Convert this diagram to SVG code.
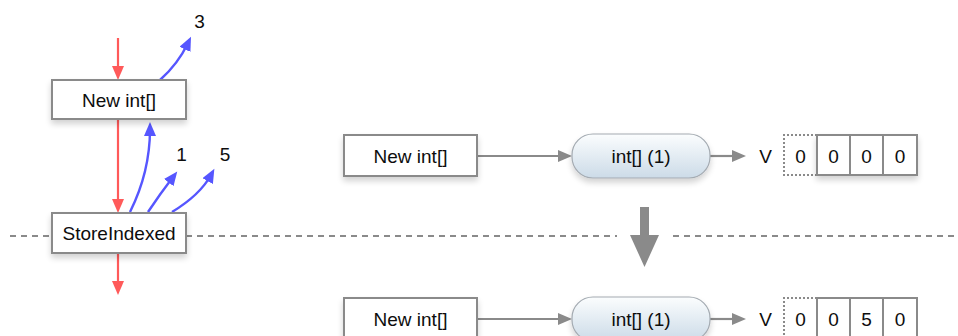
<svg xmlns="http://www.w3.org/2000/svg" width="958" height="336" viewBox="0 0 958 336">
  <style>
    .box { fill: #ffffff; stroke: #8a8a8a; stroke-width: 2; }
    .pill { fill: url(#pillFill); stroke: #a3aab1; stroke-width: 1.2; }
    .cell { fill: #ffffff; stroke: #8a8a8a; stroke-width: 2; }
    .dotted { fill: none; stroke: #8a8a8a; stroke-width: 2; stroke-dasharray: 2 2; }
    .lbl { font-family: "Liberation Sans", Arial, sans-serif; font-size: 19px; fill: #0d0d0d; text-anchor: middle; dominant-baseline: central; }
    .red { fill: none; stroke: #ff5a5a; stroke-width: 2.2; marker-end: url(#headRed); }
    .blue { fill: none; stroke: #5656ff; stroke-width: 2.4; marker-end: url(#headBlue); }
    .gray { fill: none; stroke: #8a8a8a; stroke-width: 2.2; marker-end: url(#headGray); }
    .sep { fill: none; stroke: #8a8a8a; stroke-width: 2; stroke-dasharray: 6 5; }
  </style>
  <defs>
    <linearGradient id="pillFill" x1="0" y1="0" x2="0" y2="1">
      <stop offset="0" stop-color="#fbfdfe"/>
      <stop offset="1" stop-color="#ccdbe8"/>
    </linearGradient>
    <filter id="soft" x="-10%" y="-20%" width="120%" height="160%">
      <feGaussianBlur in="SourceAlpha" stdDeviation="3"/>
      <feOffset dy="4"/>
      <feComponentTransfer><feFuncA type="linear" slope="0.18"/></feComponentTransfer>
      <feMerge><feMergeNode/><feMergeNode in="SourceGraphic"/></feMerge>
    </filter>
    <marker id="headRed" markerUnits="userSpaceOnUse" markerWidth="15" markerHeight="13" refX="7" refY="6" orient="auto">
      <path d="M0,0 L14,6 L0,12 z" fill="#ff5a5a"/>
    </marker>
    <marker id="headBlue" markerUnits="userSpaceOnUse" markerWidth="15" markerHeight="13" refX="7" refY="6" orient="auto">
      <path d="M0,0 L14,6 L0,12 z" fill="#5656ff"/>
    </marker>
    <marker id="headGray" markerUnits="userSpaceOnUse" markerWidth="15" markerHeight="13" refX="7" refY="6" orient="auto">
      <path d="M0,0 L14,6 L0,12 z" fill="#8a8a8a"/>
    </marker>
  </defs>

  <!-- separator between the two states -->
  <g id="separator">
    <path class="sep" d="M10,236 H52 M186,236 H617 M673,236 H958"/>
  </g>

  <!-- big transition arrow -->
  <g id="transition">
    <path d="M640,207 H649 V235 H659 L644.5,267 L630,235 H640 Z" fill="#8a8a8a"/>
  </g>

  <!-- graph edges -->
  <g id="connectors">
    <path class="red" d="M118,38 V73"/>
    <path class="red" d="M118,120 V206"/>
    <path class="red" d="M118,254 V288"/>
    <path class="blue" d="M160,80 Q178,64 188,43"/>
    <path class="blue" d="M130,212 Q150,172 150,129"/>
    <path class="blue" d="M148,212 Q160,194 173,177"/>
    <path class="blue" d="M172,212 Q200,195 211,175"/>
    <path class="gray" d="M477,156 H565"/>
    <path class="gray" d="M710,156 H739"/>
    <path class="gray" d="M477,319 H565"/>
    <path class="gray" d="M710,319 H739"/>
  </g>

  <!-- left graph nodes -->
  <g id="newArray">
    <rect class="box" x="52" y="80" width="134" height="39" filter="url(#soft)"/>
    <text class="lbl" x="119" y="100">New int[]</text>
  </g>
  <g id="storeIndexed">
    <rect class="box" x="52" y="213" width="134" height="40" filter="url(#soft)"/>
    <text class="lbl" x="119" y="233">StoreIndexed</text>
  </g>
  <g id="const3"><text class="lbl" x="199.5" y="21">3</text></g>
  <g id="const1"><text class="lbl" x="181.5" y="154">1</text></g>
  <g id="const5"><text class="lbl" x="225" y="154">5</text></g>

  <!-- state before the store -->
  <g id="newArrayTop">
    <rect class="box" x="344" y="135" width="133" height="41" filter="url(#soft)"/>
    <text class="lbl" x="410.5" y="156">New int[]</text>
  </g>
  <g id="objTop">
    <rect class="pill" x="572" y="134" width="138" height="44" rx="21" filter="url(#soft)"/>
    <text class="lbl" x="641" y="156">int[] (1)</text>
  </g>
  <g id="valuesTop">
    <text class="lbl" x="765.5" y="156">V</text>
    <path class="dotted" d="M817,135 H784 V175 H817"/>
    <rect class="cell" x="817" y="135" width="100" height="40" filter="url(#soft)"/>
    <path d="M850,135 V175 M883,135 V175" stroke="#8a8a8a" stroke-width="2"/>
    <text class="lbl" x="800.5" y="156">0</text>
    <text class="lbl" x="833.5" y="156">0</text>
    <text class="lbl" x="866.5" y="156">0</text>
    <text class="lbl" x="900" y="156">0</text>
  </g>

  <!-- state after the store -->
  <g id="newArrayBottom">
    <rect class="box" x="344" y="298" width="133" height="41" filter="url(#soft)"/>
    <text class="lbl" x="410.5" y="319">New int[]</text>
  </g>
  <g id="objBottom">
    <rect class="pill" x="572" y="297" width="138" height="44" rx="21" filter="url(#soft)"/>
    <text class="lbl" x="641" y="319">int[] (1)</text>
  </g>
  <g id="valuesBottom">
    <text class="lbl" x="765.5" y="319">V</text>
    <path class="dotted" d="M817,298 H784 V338 H817"/>
    <rect class="cell" x="817" y="298" width="100" height="40"/>
    <path d="M850,298 V338 M883,298 V338" stroke="#8a8a8a" stroke-width="2"/>
    <text class="lbl" x="800.5" y="319">0</text>
    <text class="lbl" x="833.5" y="319">0</text>
    <text class="lbl" x="866.5" y="319">5</text>
    <text class="lbl" x="900" y="319">0</text>
  </g>
</svg>
